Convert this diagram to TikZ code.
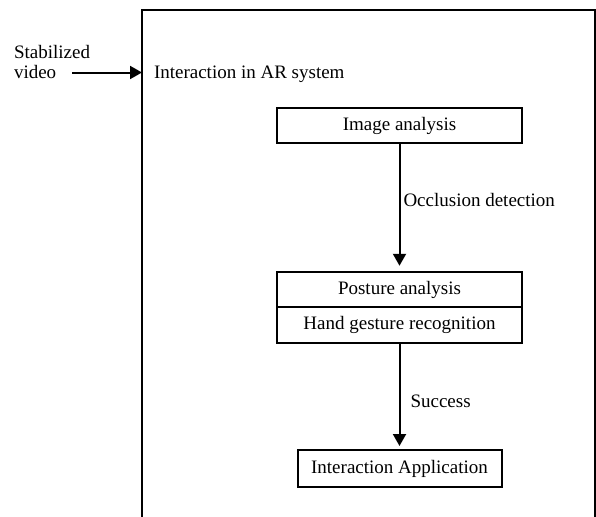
\documentclass[tikz,border=0pt]{standalone}
\usepackage{fontspec}
\setmainfont{Liberation Serif}
\usetikzlibrary{positioning,arrows.meta}

\begin{document}
\begin{tikzpicture}[
                        x=1pt, y=-1pt,
                        inner sep=0pt,
                        line width=2pt,
                        font=\fontsize{19}{23}\selectfont,
                        >={Triangle[length=12pt,width=13pt]}
                    ]
                    \useasboundingbox (0,0) rectangle (596,516);
                    % Frame
                    \coordinate (frame) at (142,10);
                    \draw (142,517) |- (594.5,10) -- (594.5,517);
                    \node [anchor=base west] (title) at (153,79) {Interaction in AR system};

                    % Blocks
                    \node [anchor=base west] (stab) at (13,59) {Stabilized};
                    \node [anchor=base west] (vid) at (13,79) {video};
                    \node [rectangle, draw, minimum height=35pt, minimum width=245pt] (img) at (399.5,125.5) {Image analysis};
                    \node [rectangle, draw, minimum height=35.5pt, minimum width=245pt, below of=img, node distance=164pt] (post) {Posture analysis};
                    \node [rectangle, draw, minimum height=35.5pt, minimum width=245pt, below of=post, node distance=35.5pt] (hand) {Hand gesture recognition};
                    \node [rectangle, draw, minimum height=37pt, minimum width=204pt, below of=hand, node distance=143.5pt] (app) {Interaction Application};

                    % Connections
                    \draw [->] ([xshift=15pt]vid.east) -- (vid.east -| frame);
                    \draw [->, shorten >=5pt] (img) -- node[pos=0.44, right=3pt]{Occlusion detection} (post);
                    \draw [->, shorten >=3pt] (hand) -- node[pos=0.55, right=10pt]{Success} (app);
                \end{tikzpicture}
\end{document}
